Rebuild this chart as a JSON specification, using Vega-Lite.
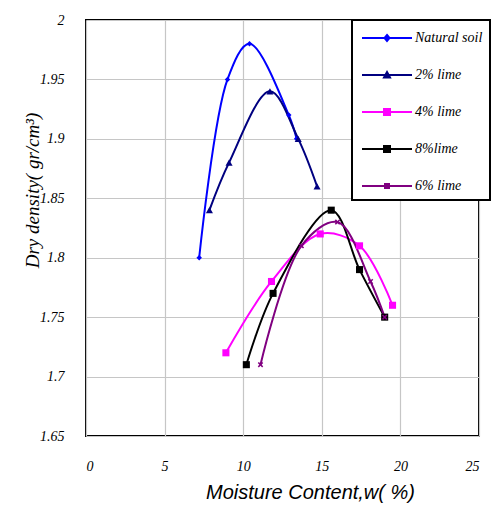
{
  "$schema": "https://vega.github.io/schema/vega-lite/v6.json",
  "width": 393,
  "height": 416,
  "autosize": "none",
  "padding": {"left": 86, "top": 20, "right": 18, "bottom": 84},
  "background": "white",
  "config": {
    "view": {"stroke": "black", "strokeWidth": 2}
  },
  "data": {
    "values": [
      {"series": "Natural soil", "w": 7.2, "dd": 1.80},
      {"series": "Natural soil", "w": 9.0, "dd": 1.95},
      {"series": "Natural soil", "w": 10.4, "dd": 1.98},
      {"series": "Natural soil", "w": 12.9, "dd": 1.92},
      {"series": "Natural soil", "w": 13.4, "dd": 1.90},
      {"series": "2% lime", "w": 7.85, "dd": 1.84},
      {"series": "2% lime", "w": 9.1, "dd": 1.88},
      {"series": "2% lime", "w": 11.7, "dd": 1.94},
      {"series": "2% lime", "w": 13.5, "dd": 1.90},
      {"series": "2% lime", "w": 14.7, "dd": 1.86},
      {"series": "4% lime", "w": 8.9, "dd": 1.72},
      {"series": "4% lime", "w": 11.8, "dd": 1.78},
      {"series": "4% lime", "w": 14.9, "dd": 1.82},
      {"series": "4% lime", "w": 17.4, "dd": 1.81},
      {"series": "4% lime", "w": 19.5, "dd": 1.76},
      {"series": "8%lime", "w": 10.2, "dd": 1.71},
      {"series": "8%lime", "w": 11.9, "dd": 1.77},
      {"series": "8%lime", "w": 15.6, "dd": 1.84},
      {"series": "8%lime", "w": 17.4, "dd": 1.79},
      {"series": "8%lime", "w": 19.0, "dd": 1.75},
      {"series": "6% lime", "w": 11.1, "dd": 1.71},
      {"series": "6% lime", "w": 13.7, "dd": 1.81},
      {"series": "6% lime", "w": 16.0, "dd": 1.83},
      {"series": "6% lime", "w": 18.1, "dd": 1.78},
      {"series": "6% lime", "w": 19.0, "dd": 1.75}
    ]
  },
  "encoding": {
    "x": {
      "field": "w",
      "type": "quantitative",
      "scale": {"domain": [0, 25], "nice": false, "zero": false},
      "axis": {
        "grid": true,
        "gridColor": "#c6c6c6",
        "gridOpacity": 1,
        "gridWidth": 1.2,
        "domain": false,
        "ticks": false,
        "values": [0, 5, 10, 15, 20, 25],
        "labelFont": "Liberation Serif",
        "labelFontStyle": "italic",
        "labelFontSize": 14,
        "labelColor": "black",
        "labelPadding": 23,
        "title": "Moisture Content,w( %)",
        "titleFont": "Liberation Sans",
        "titleFontStyle": "italic",
        "titleFontWeight": "normal",
        "titleFontSize": 20,
        "titleColor": "black",
        "titleX": 224,
        "titleY": 56,
        "titleAlign": "center",
        "titleBaseline": "middle"
      }
    },
    "y": {
      "field": "dd",
      "type": "quantitative",
      "scale": {"domain": [1.65, 2], "nice": false, "zero": false},
      "axis": {
        "grid": true,
        "gridColor": "#c6c6c6",
        "gridOpacity": 1,
        "gridWidth": 1.2,
        "domain": false,
        "ticks": false,
        "values": [1.65, 1.7, 1.75, 1.8, 1.85, 1.9, 1.95, 2],
        "format": ".2~f",
        "labelFont": "Liberation Serif",
        "labelFontStyle": "italic",
        "labelFontSize": 14,
        "labelColor": "black",
        "labelPadding": 22,
        "title": "Dry density( gr/cm³)",
        "titleFont": "Liberation Serif",
        "titleFontStyle": "italic",
        "titleFontWeight": "normal",
        "titleFontSize": 19,
        "titleColor": "black",
        "titleAngle": 270,
        "titleX": -54,
        "titleY": 170,
        "titleAlign": "center",
        "titleBaseline": "middle"
      }
    }
  },
  "layer": [
    {
      "mark": {"type": "line", "interpolate": "catmull-rom", "strokeWidth": 2},
      "encoding": {
        "color": {
          "field": "series",
          "type": "nominal",
          "scale": {
            "domain": ["Natural soil", "2% lime", "4% lime", "8%lime", "6% lime"],
            "range": ["#0000FF", "#000080", "#FF00FF", "#000000", "#800080"]
          },
          "legend": {
            "title": null,
            "orient": "none",
            "legendX": 266,
            "legendY": 0,
            "padding": 7,
            "strokeColor": "black",
            "fillColor": "white",
            "symbolType": "M-2.5,0L2.5,0M-0.3,-0.3L0.3,-0.3L0.3,0.3L-0.3,0.3Z",
            "symbolSize": 400,
            "symbolStrokeWidth": 2,
            "symbolOffset": 17,
            "labelOffset": 17,
            "rowPadding": 19,
            "labelFont": "Liberation Serif",
            "labelFontStyle": "italic",
            "labelFontSize": 14,
            "labelColor": "black",
            "labelLimit": 200,
            "encode": {
              "legend": {"update": {"strokeWidth": {"value": 2}}},
              "symbols": {
                "update": {
                  "shape": {"signal": "datum.value === 'Natural soil' ? 'M-2.5,0L2.5,0M0,-0.3L0.25,0L0,0.3L-0.25,0Z' : datum.value === '2% lime' ? 'M-2.5,0L2.5,0M0,-0.3L0.3,0.25L-0.3,0.25Z' : datum.value === '6% lime' ? 'M-2.5,0L2.5,0M-0.2,-0.2L0.2,-0.2L0.2,0.2L-0.2,0.2Z' : 'M-2.5,0L2.5,0M-0.3,-0.3L0.3,-0.3L0.3,0.3L-0.3,0.3Z'"},
                  "fill": {"scale": "color", "field": "value"}
                }
              }
            }
          }
        }
      }
    },
    {
      "transform": [{"filter": "datum.series === 'Natural soil'"}],
      "mark": {"type": "point", "filled": true, "opacity": 1, "shape": "diamond", "size": 30, "color": "#0000FF"}
    },
    {
      "transform": [{"filter": "datum.series === '2% lime'"}],
      "mark": {"type": "point", "filled": true, "opacity": 1, "shape": "triangle-up", "size": 50, "color": "#000080"}
    },
    {
      "transform": [{"filter": "datum.series === '4% lime'"}],
      "mark": {"type": "point", "filled": true, "opacity": 1, "shape": "square", "size": 50, "color": "#FF00FF"}
    },
    {
      "transform": [{"filter": "datum.series === '8%lime'"}],
      "mark": {"type": "point", "filled": true, "opacity": 1, "shape": "square", "size": 50, "color": "#000000"}
    },
    {
      "transform": [{"filter": "datum.series === '6% lime'"}],
      "mark": {"type": "point", "filled": true, "opacity": 1, "shape": "M-1,-0.6L-0.6,-1L0,-0.4L0.6,-1L1,-0.6L0.4,0L1,0.6L0.6,1L0,0.4L-0.6,1L-1,0.6L-0.4,0Z", "size": 30, "color": "#800080"}
    }
  ]
}
